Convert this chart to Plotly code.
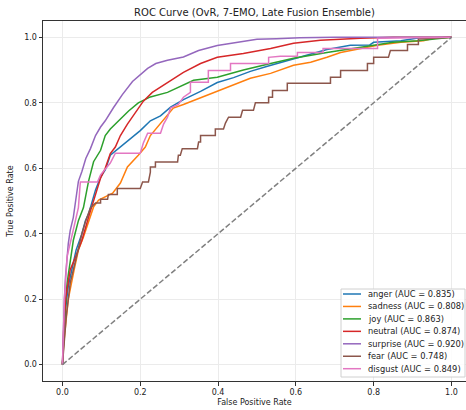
import plotly.graph_objects as go

# ---------------- data ----------------
class_names = ["anger", "sadness", "joy", "neutral", "surprise", "fear", "disgust"]
auc_values = [0.835, 0.808, 0.863, 0.874, 0.920, 0.748, 0.849]
colors = ["#1f77b4", "#ff7f0e", "#2ca02c", "#d62728", "#9467bd", "#8c564b", "#e377c2"]

anger_fpr = [0, 0.003, 0.008, 0.015, 0.025, 0.035, 0.05, 0.059, 0.067, 0.085, 0.098, 0.11, 0.123, 0.149,
             0.175, 0.2, 0.226, 0.252, 0.278, 0.311, 0.355, 0.398, 0.44, 0.483, 0.527, 0.568, 0.612, 0.68,
             0.74, 0.79, 0.80, 0.87, 0.91, 0.95, 1.0]
anger_tpr = [0, 0.08, 0.17, 0.24, 0.30, 0.35, 0.40, 0.44, 0.46, 0.534, 0.573, 0.595, 0.64, 0.665,
             0.69, 0.715, 0.745, 0.76, 0.787, 0.81, 0.835, 0.862, 0.877, 0.896, 0.912, 0.926, 0.941, 0.963,
             0.976, 0.977, 0.985, 0.99, 0.997, 0.998, 1.0]

sadness_fpr = [0, 0.003, 0.008, 0.015, 0.03, 0.041, 0.054, 0.067, 0.08, 0.093, 0.112, 0.129, 0.149, 0.167,
               0.195, 0.213, 0.226, 0.244, 0.27, 0.285, 0.311, 0.355, 0.398, 0.44, 0.483, 0.535, 0.594,
               0.638, 0.68, 0.715, 0.766, 0.81, 0.87, 0.928, 0.954, 1.0]
sadness_tpr = [0, 0.06, 0.12, 0.20, 0.29, 0.35, 0.39, 0.433, 0.482, 0.503, 0.515, 0.524, 0.555, 0.604,
               0.64, 0.665, 0.70, 0.726, 0.765, 0.784, 0.795, 0.815, 0.835, 0.855, 0.875, 0.89, 0.915,
               0.924, 0.939, 0.954, 0.966, 0.976, 0.985, 0.99, 0.997, 1.0]

joy_fpr = [0, 0.003, 0.006, 0.012, 0.02, 0.028, 0.041, 0.054, 0.067, 0.08, 0.098, 0.11, 0.123, 0.149,
           0.17, 0.195, 0.226, 0.27, 0.337, 0.398, 0.465, 0.535, 0.594, 0.68, 0.766, 0.85, 0.913, 1.0]
joy_tpr = [0, 0.08, 0.15, 0.25, 0.31, 0.38, 0.44, 0.48, 0.56, 0.62, 0.655, 0.70, 0.72, 0.75,
           0.775, 0.80, 0.818, 0.832, 0.869, 0.878, 0.90, 0.92, 0.936, 0.954, 0.97, 0.985, 0.99, 1.0]

neutral_fpr = [0, 0.003, 0.008, 0.015, 0.02, 0.034, 0.05, 0.067, 0.085, 0.098, 0.11, 0.123, 0.136,
               0.149, 0.167, 0.188, 0.208, 0.231, 0.27, 0.311, 0.355, 0.398, 0.465, 0.535, 0.594,
               0.663, 0.766, 0.85, 1.0]
neutral_tpr = [0, 0.10, 0.20, 0.25, 0.29, 0.33, 0.38, 0.45, 0.52, 0.57, 0.60, 0.645, 0.665,
               0.70, 0.735, 0.77, 0.805, 0.832, 0.863, 0.893, 0.92, 0.939, 0.951, 0.966, 0.982,
               0.991, 0.997, 1.0, 1.0]

surprise_fpr = [0, 0.002, 0.005, 0.008, 0.015, 0.02, 0.028, 0.035, 0.041, 0.05, 0.06, 0.072, 0.085,
                0.098, 0.11, 0.131, 0.154, 0.18, 0.2, 0.219, 0.24, 0.27, 0.311, 0.35, 0.398, 0.45,
                0.5, 0.55, 0.61, 0.7, 1.0]
surprise_tpr = [0, 0.10, 0.20, 0.27, 0.37, 0.41, 0.45, 0.51, 0.56, 0.59, 0.63, 0.66, 0.70,
                0.726, 0.745, 0.785, 0.825, 0.865, 0.885, 0.905, 0.92, 0.93, 0.94, 0.96, 0.975, 0.985,
                0.994, 0.996, 0.999, 1.0, 1.0]

fear_fpr = [0, 0.003, 0.01, 0.02, 0.035, 0.05, 0.06, 0.072, 0.085, 0.098, 0.098, 0.116, 0.118, 0.141,
            0.141, 0.2, 0.206, 0.221, 0.226, 0.226, 0.239, 0.239, 0.296, 0.298, 0.303, 0.308, 0.347,
            0.35, 0.355, 0.355, 0.393, 0.393, 0.414, 0.419, 0.427, 0.458, 0.463, 0.491, 0.496, 0.53,
            0.53, 0.54, 0.54, 0.578, 0.578, 0.689, 0.689, 0.715, 0.715, 0.784, 0.784, 0.80, 0.80,
            0.838, 0.843, 0.887, 0.887, 0.915, 0.915, 1.0]
fear_tpr = [0, 0.05, 0.15, 0.25, 0.33, 0.40, 0.44, 0.479, 0.494, 0.494, 0.505, 0.505, 0.52, 0.52,
            0.538, 0.538, 0.558, 0.558, 0.588, 0.604, 0.604, 0.619, 0.619, 0.64, 0.64, 0.66, 0.66,
            0.68, 0.68, 0.70, 0.70, 0.72, 0.72, 0.738, 0.756, 0.756, 0.777, 0.777, 0.80, 0.80,
            0.817, 0.817, 0.838, 0.838, 0.86, 0.86, 0.878, 0.878, 0.899, 0.899, 0.92, 0.92, 0.939,
            0.939, 0.96, 0.96, 0.978, 0.978, 0.995, 1.0]

disgust_fpr = [0, 0.002, 0.005, 0.012, 0.025, 0.041, 0.046, 0.09, 0.098, 0.123, 0.136, 0.2, 0.208,
               0.219, 0.252, 0.26, 0.27, 0.278, 0.298, 0.311, 0.329, 0.329, 0.375, 0.375, 0.432,
               0.432, 0.53, 0.53, 0.56, 0.604, 0.604, 0.67, 0.67, 0.81, 0.81, 1.0]
disgust_tpr = [0, 0.10, 0.20, 0.33, 0.40, 0.48, 0.558, 0.558, 0.58, 0.616, 0.646, 0.646, 0.677,
               0.707, 0.707, 0.735, 0.756, 0.784, 0.795, 0.817, 0.832, 0.863, 0.863, 0.899, 0.899,
               0.92, 0.92, 0.939, 0.942, 0.942, 0.954, 0.954, 0.966, 0.966, 0.997, 1.0]

diag_x = [0, 1]
diag_y = [0, 1]

x_ticks = [0.0, 0.2, 0.4, 0.6, 0.8, 1.0]
y_ticks = [0.0, 0.2, 0.4, 0.6, 0.8, 1.0]

title_text = "ROC Curve (OvR, 7-EMO, Late Fusion Ensemble)"
x_title = "False Positive Rate"
y_title = "True Positive Rate"

series = [
    (anger_fpr, anger_tpr),
    (sadness_fpr, sadness_tpr),
    (joy_fpr, joy_tpr),
    (neutral_fpr, neutral_tpr),
    (surprise_fpr, surprise_tpr),
    (fear_fpr, fear_tpr),
    (disgust_fpr, disgust_tpr),
]

# ---------------- figure ----------------
W, H = 466, 410
ML, MR, MT, MB = 43, 0, 21, 29
FONT = "DejaVu Sans"
TXT = "#222222"

fig = go.Figure()
for (fx, fy), name, auc, col in zip(series, class_names, auc_values, colors):
    fig.add_trace(go.Scatter(x=fx, y=fy, mode="lines", name=f"{name} (AUC = {auc:.3f})",
                             line=dict(color=col, width=1.5), showlegend=False, hoverinfo="skip"))
fig.add_trace(go.Scatter(x=diag_x, y=diag_y, mode="lines",
                         line=dict(color="#808080", width=1.5, dash="5.5px,2.4px"),
                         showlegend=False, hoverinfo="skip"))


def px_x(p):
    return (p - ML) / (W - ML - MR)


def px_y(p):
    return (H - MB - p) / (H - MT - MB)


shapes = []
annotations = []
# legend box
shapes.append(dict(type="rect", xref="paper", yref="paper",
                   x0=px_x(341), x1=px_x(465), y0=px_y(377), y1=px_y(289),
                   line=dict(color="#d0d0d0", width=1), fillcolor="rgba(255,255,255,0.85)",
                   layer="above"))
for i, (name, auc, col) in enumerate(zip(class_names, auc_values, colors)):
    yc = 294 + i * 12.45
    shapes.append(dict(type="line", xref="paper", yref="paper",
                       x0=px_x(343), x1=px_x(361), y0=px_y(yc), y1=px_y(yc),
                       line=dict(color=col, width=1.5), layer="above"))
    annotations.append(dict(xref="paper", yref="paper", x=px_x(366), y=px_y(yc),
                            xanchor="left", yanchor="middle", showarrow=False,
                            text=f"{name} (AUC = {auc:.3f})",
                            font=dict(family=FONT, size=8.3, color=TXT)))

axis_common = dict(
    showgrid=True, gridcolor="#ebebeb", gridwidth=0.8, zeroline=False,
    showline=True, linecolor="#333333", linewidth=1,
    ticks="outside", ticklen=3.5, tickwidth=0.8, tickcolor="#333333",
    tickfont=dict(family=FONT, size=8, color=TXT),
    automargin=False,
)

fig.update_layout(
    width=W, height=H,
    margin=dict(l=ML, r=MR, t=MT, b=MB),
    paper_bgcolor="white", plot_bgcolor="white",
    title=dict(text=title_text, x=0.5, xref="paper", xanchor="center",
               y=1 - 12 / H, yref="container", yanchor="middle",
               font=dict(family=FONT, size=10, color=TXT)),
    xaxis=dict(range=[-0.05, 1.0374], tickvals=x_ticks, ticktext=[f"{v:.1f}" for v in x_ticks],
               mirror=True,
               title=dict(text=x_title, standoff=3, font=dict(family=FONT, size=8, color=TXT)),
               **axis_common),
    yaxis=dict(range=[-0.05, 1.05], tickvals=y_ticks, ticktext=[f"{v:.1f}" for v in y_ticks],
               mirror=False,
               title=dict(text=y_title, standoff=9, font=dict(family=FONT, size=8, color=TXT)),
               **axis_common),
    shapes=shapes,
    annotations=annotations,
    showlegend=False,
)

fig.write_html("out.html")
